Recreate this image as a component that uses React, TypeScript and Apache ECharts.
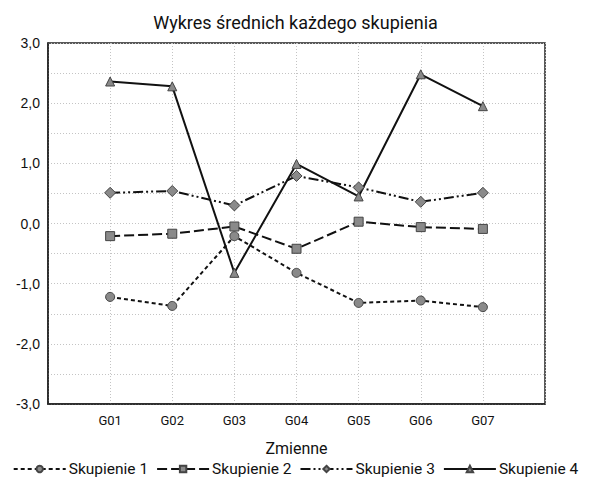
import React, { useEffect, useRef } from "react";
import * as echarts from "echarts";

const categories = ["", "G01", "G02", "G03", "G04", "G05", "G06", "G07", ""];
const seriesNames = ["Skupienie 1", "Skupienie 2", "Skupienie 3", "Skupienie 4"];
const s1 = [null, -1.22, -1.37, -0.21, -0.82, -1.32, -1.28, -1.39, null];
const s2 = [null, -0.21, -0.17, -0.05, -0.42, 0.03, -0.06, -0.09, null];
const s3 = [null, 0.51, 0.54, 0.3, 0.79, 0.6, 0.36, 0.51, null];
const s4 = [null, 2.36, 2.28, -0.82, 0.99, 0.45, 2.48, 1.95, null];

const narrow = "Roboto, 'Noto Sans', sans-serif";

export default function App() {
  const ref = useRef<HTMLDivElement>(null);
  useEffect(() => {
    const chart = echarts.init(ref.current!, null, { renderer: "svg" });
    const symbols = ["circle", "rect", "diamond", "triangle"];
    const dashes: any[] = [[4, 3], [10, 4], [10, 3, 2, 3, 2, 3], "solid"];
    const datas = [s1, s2, s3, s4];
    chart.setOption({
      animation: false,
      backgroundColor: "#fff",
      title: {
        text: "Wykres średnich każdego skupienia",
        left: "center",
        top: 8,
        textStyle: { fontFamily: narrow, fontSize: 18, fontWeight: "normal", color: "#111" },
      },
      grid: {
        left: 48,
        right: 46,
        top: 43,
        bottom: 79,
        show: true,
        borderColor: "#222",
        borderWidth: 1.5,
      },
      legend: {
        bottom: 6,
        left: "center",
        padding: 0,
        itemWidth: 52,
        itemHeight: 8,
        itemGap: 8,
        textStyle: { fontFamily: narrow, fontSize: 15.5, color: "#111", padding: [0, 0, 0, -2] },
        data: seriesNames,
      },
      xAxis: {
        type: "category",
        data: categories,
        boundaryGap: false,
        name: "Zmienne",
        nameLocation: "middle",
        nameGap: 36,
        nameTextStyle: { fontFamily: narrow, fontSize: 16, color: "#111" },
        axisLine: { show: true, onZero: false, lineStyle: { color: "#222", width: 1.5 } },
        axisTick: { show: false },
        axisLabel: { fontFamily: narrow, fontSize: 13, color: "#111", margin: 10, interval: 0 },
        splitLine: { show: true, lineStyle: { color: "#c4c4c4", type: [1, 2] } },
      },
      yAxis: {
        type: "value",
        min: -3,
        max: 3,
        interval: 0.5,
        axisLine: { show: true, lineStyle: { color: "#222", width: 1.5 } },
        axisTick: { show: false },
        axisLabel: {
          fontFamily: "'Liberation Sans', Arial, sans-serif",
          fontSize: 14,
          color: "#111",
          margin: 8,
          formatter: (v: number) =>
            Math.abs(v - Math.round(v)) < 1e-9 ? v.toFixed(1).replace(".", ",") : "",
        },
        splitLine: { show: true, lineStyle: { color: "#c4c4c4", type: [1, 2] } },
      },
      series: datas.map((d, i) => ({
        name: seriesNames[i],
        type: "line",
        data: d,
        symbol: symbols[i],
        symbolSize: i === 2 ? 11 : 9,
        showSymbol: true,
        connectNulls: false,
        lineStyle: { color: "#111", width: 2, type: dashes[i] },
        itemStyle: { color: "#8a8a8a", borderColor: "#444", borderWidth: 1 },
      })),
    });
    return () => chart.dispose();
  }, []);
  return (
    <div
      ref={ref}
      style={{ position: "fixed", left: 0, top: 0, width: 591, height: 483 }}
    />
  );
}
